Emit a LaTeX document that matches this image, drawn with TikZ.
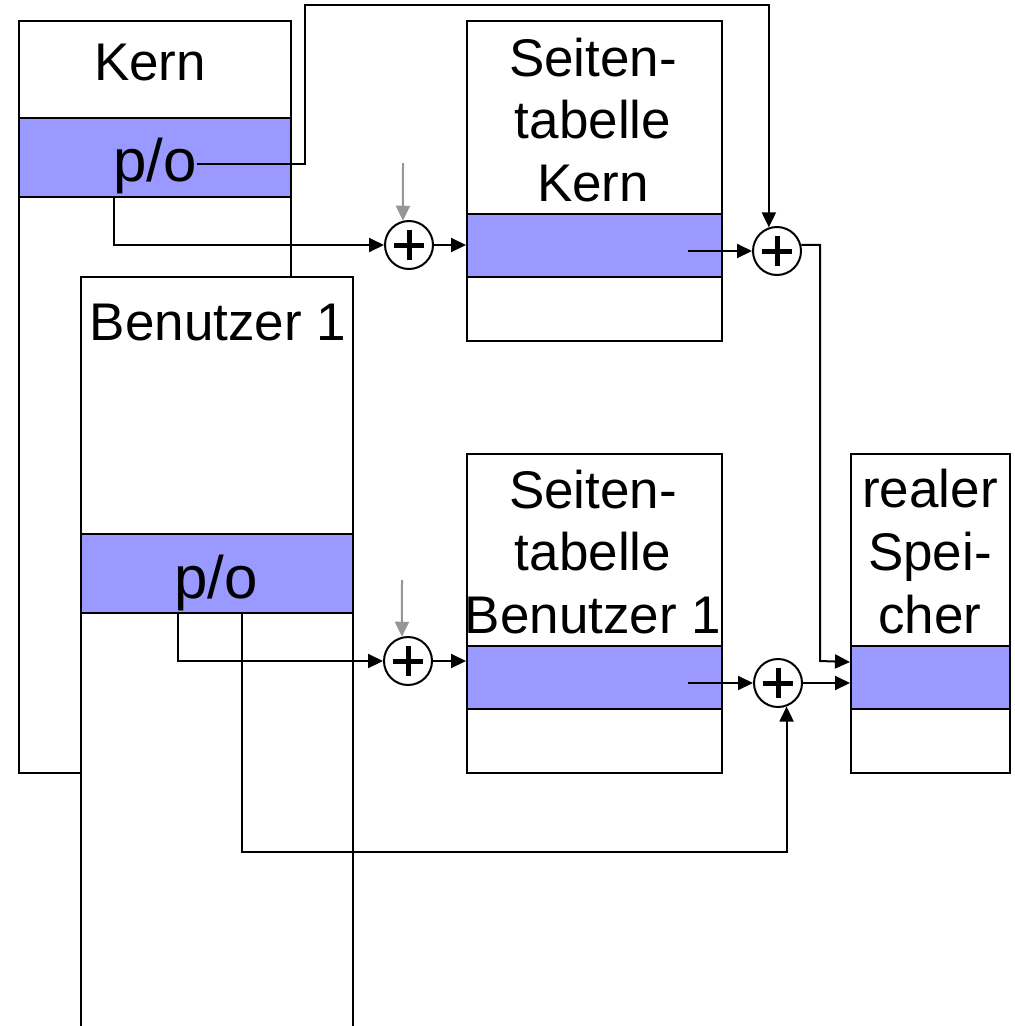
\documentclass[tikz,border=0pt]{standalone}
\usepackage{fontspec}
\setmainfont{Liberation Sans}
\usetikzlibrary{arrows.meta}
\definecolor{band}{RGB}{153,153,255}
\definecolor{feed}{RGB}{150,150,150}
\begin{document}
\begin{tikzpicture}[x=1pt,y=-1pt,line width=2pt,
  box/.style={draw,fill=white,rectangle,inner sep=0pt,anchor=north west},
  bandbox/.style={box,fill=band},
  lbl/.style={font=\fontsize{53}{63}\selectfont,inner sep=0pt,anchor=base},
  polbl/.style={font=\fontsize{60}{70}\selectfont,inner sep=0pt,anchor=base},
  adder/.style={draw,circle,fill=white,minimum size=48pt,inner sep=0pt,
    path picture={\draw[line width=5pt]
      (path picture bounding box.center) ++(-15,0) -- ++(30,0)
      (path picture bounding box.center) ++(0,-15) -- ++(0,30);}},
  arr/.style={-{Triangle[length=15pt,width=14pt]}},
  feedarr/.style={arr,draw=feed,fill=feed},
]
\useasboundingbox (0,0) rectangle (1015,1026);
\clip (0,0) rectangle (1015,1026);

% address spaces
\node[box,minimum width=272pt,minimum height=752pt] (kern) at (18,20) {};
\node[bandbox,minimum width=272pt,minimum height=79pt] (kernband) at (18,117) {};
\node[lbl] (kernlbl) at (150,80) {Kern};
\node[polbl] (kpo) at (155,181) {p/o};

\node[box,minimum width=272pt,minimum height=800pt] (ben) at (80,276) {};
\node[bandbox,minimum width=272pt,minimum height=79pt] (benband) at (80,533) {};
\node[lbl] (benlbl) at (218,340) {Benutzer 1};
\node[polbl] (bpo) at (216,598) {p/o};

% page tables
\node[box,minimum width=255pt,minimum height=320pt] (stk) at (466,20) {};
\node[bandbox,minimum width=255pt,minimum height=63pt] (stkband) at (466,213) {};
\node[lbl] (stk1) at (593,76) {Seiten-};
\node[lbl] (stk2) at (593,138) {tabelle};
\node[lbl] (stk3) at (593,201) {Kern};

\node[box,minimum width=255pt,minimum height=319pt] (stb) at (466,453) {};
\node[bandbox,minimum width=255pt,minimum height=63pt] (stbband) at (466,645) {};
\node[lbl] (stb1) at (593,508) {Seiten-};
\node[lbl] (stb2) at (593,570) {tabelle};
\node[lbl] (stb3) at (593,633) {Benutzer 1};

% physical memory
\node[box,minimum width=159pt,minimum height=319pt] (mem) at (850,453) {};
\node[bandbox,minimum width=159pt,minimum height=63pt] (memband) at (850,645) {};
\node[lbl] (mem1) at (930,507) {realer};
\node[lbl] (mem2) at (930,570) {Spei-};
\node[lbl] (mem3) at (930,633) {cher};

% adders
\node[adder] (add1) at (409,245) {};
\node[adder] (add2) at (777,251) {};
\node[adder] (add3) at (408,661) {};
\node[adder] (add4) at (778,683) {};

% connector end points
\coordinate (kout) at (197,164);
\coordinate (f1) at (403,163);
\coordinate (f3) at (402,580);
\coordinate (s1) at (688,251);
\coordinate (s3) at (688,683);

% kernel path
\draw[arr] (kout) -| (305,5) -| (add2.109.5);
\draw[arr] (kernband.south -| 114,0) |- (add1.west);
\draw[feedarr] (f1) -- (add1.104.5);
\draw[arr] (add1.east) -- (add1.east -| stkband.west);
\draw[arr] (s1) -- (add2.west);
\draw[arr] (add2.14.5) -| (820,661) -- ([yshift=15.5pt]memband.west);

% user path
\draw[arr] (benband.south -| 178,0) |- (add3.west);
\draw[feedarr] (f3) -- (add3.104.5);
\draw[arr] (add3.east) -- (add3.east -| stbband.west);
\draw[arr] (s3) -- (add4.west);
\draw[arr] (add4.east) -- (add4.east -| memband.west);
\draw[arr] (benband.south -| 242,0) |- (add4.-70.5 |- 0,852) -- (add4.-70.5);
\end{tikzpicture}
\end{document}
